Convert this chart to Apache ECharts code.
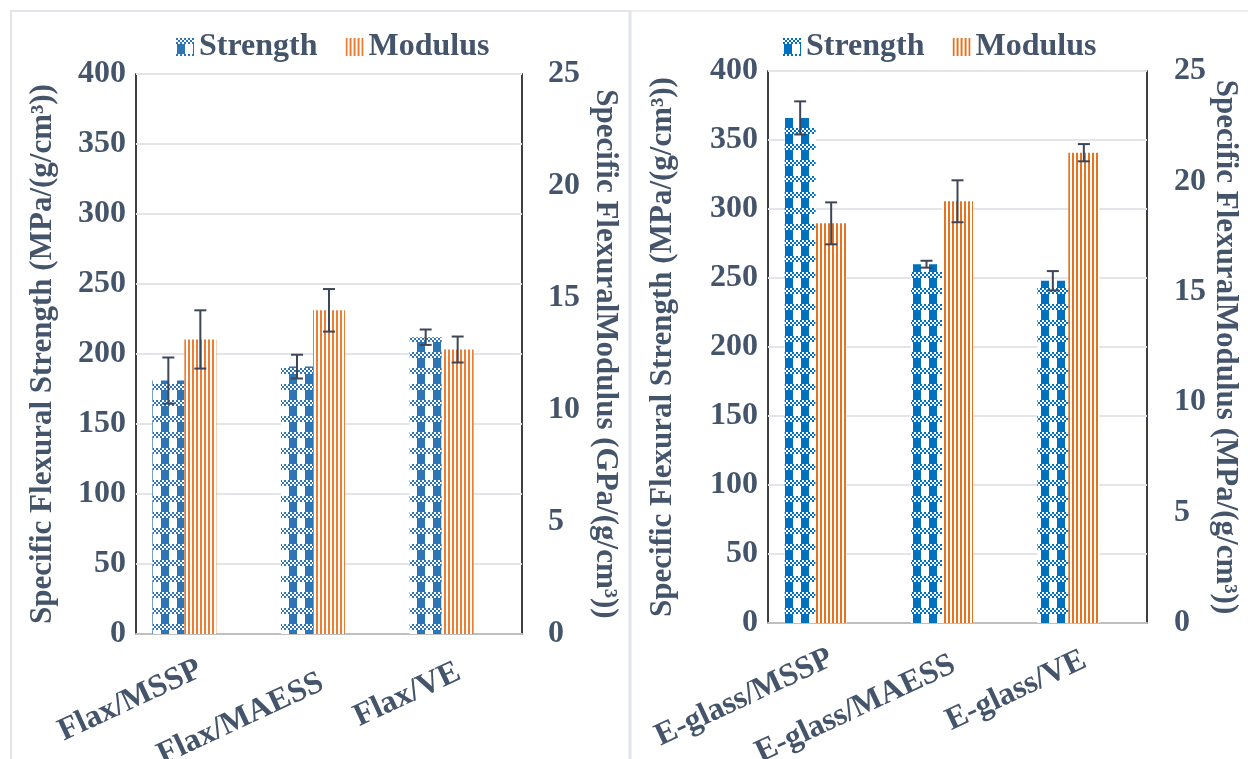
<!DOCTYPE html>
<html><head><meta charset="utf-8">
<script src="https://cdn.jsdelivr.net/npm/echarts@6/dist/echarts.min.js"></script>
<style>html,body{margin:0;padding:0;background:#fff}#c{width:1248px;height:759px}</style>
</head><body><div id="c"></div>
<script>
// ---- data ----
const flaxCategories = ['Flax/MSSP', 'Flax/MAESS', 'Flax/VE'];
const flaxStrength = [181, 191, 212];
const flaxStrengthErr = [16.5, 8.5, 5.5];
const flaxModulus = [13.15, 14.45, 12.7];
const flaxModulusErr = [1.3, 0.95, 0.58];

const glassCategories = ['E-glass/MSSP', 'E-glass/MAESS', 'E-glass/VE'];
const glassStrength = [366, 260, 248];
const glassStrengthErr = [12, 2.5, 7];
const glassModulus = [18.1, 19.1, 21.3];
const glassModulusErr = [0.95, 0.95, 0.39];

const strengthTicks = [0, 400, 50];   // min, max, interval
const modulusTicks = [0, 25, 5];
const legendNames = ['Strength', 'Modulus'];

// ---- patterns ----
function checkerPattern(color) {
  const c = document.createElement('canvas');
  c.width = 16; c.height = 16;
  const g = c.getContext('2d');
  g.fillStyle = '#fff'; g.fillRect(0, 0, 16, 16);
  g.fillStyle = color;
  for (let y = 0; y < 6; y += 2) for (let x = 0; x < 16; x += 2) {
    if (((x + y) / 2) % 2 === 0) g.fillRect(x, y, 2, 2);
  }
  g.fillRect(1, 6, 8, 10);
  return { image: c, repeat: 'repeat' };
}
function stripePattern(color) {
  const c = document.createElement('canvas');
  c.width = 4; c.height = 4;
  const g = c.getContext('2d');
  g.fillStyle = '#fff'; g.fillRect(0, 0, 4, 4);
  g.fillStyle = color; g.fillRect(0, 0, 2, 4);
  return { image: c, repeat: 'repeat' };
}

const TXT = '#44546a';
const FONT = "'Liberation Serif', 'Times New Roman', serif";
const BW = 32;

function errData(vals, errs) { return vals.map((v, i) => [i, v - errs[i], v + errs[i]]); }
function errSeries(data, xi, yi, off) {
  return {
    type: 'custom', xAxisIndex: xi, yAxisIndex: yi, z: 10, silent: true,
    encode: { x: 0, y: [1, 2] }, data: data,
    renderItem: function (params, api) {
      const lo = api.coord([api.value(0), api.value(1)]);
      const hi = api.coord([api.value(0), api.value(2)]);
      const x = lo[0] + off, h = 6;
      const st = { stroke: '#3d4657', lineWidth: 2 };
      return { type: 'group', children: [
        { type: 'line', shape: { x1: x, y1: lo[1], x2: x, y2: hi[1] }, style: st },
        { type: 'line', shape: { x1: x - h, y1: lo[1], x2: x + h, y2: lo[1] }, style: st },
        { type: 'line', shape: { x1: x - h, y1: hi[1], x2: x + h, y2: hi[1] }, style: st }
      ] };
    }
  };
}

const baseFont = { color: TXT, fontFamily: FONT, fontWeight: 'bold' };
const lblStyle = Object.assign({ fontSize: 32 }, baseFont);
const nameStyle = Object.assign({ fontSize: 31 }, baseFont);
const legendText = Object.assign({ fontSize: 32 }, baseFont);

function yAxis(gi, pos, ticks, name, gap, margin, split) {
  return {
    type: 'value', gridIndex: gi, position: pos, min: ticks[0], max: ticks[1], interval: ticks[2],
    name: name, nameLocation: 'middle', nameGap: gap, nameRotate: pos === 'left' ? 90 : -90,
    nameTextStyle: nameStyle,
    axisLine: { show: false }, axisTick: { show: false },
    axisLabel: Object.assign({ margin: margin }, lblStyle),
    splitLine: { show: split, lineStyle: { color: '#e3e5ea', width: 2 } }
  };
}
function xAxis(gi, cats, margin, pads) {
  const rich = {};
  pads.forEach((p, i) => { rich['c' + i] = Object.assign({ fontSize: 32, padding: p }, baseFont); });
  return {
    type: 'category', gridIndex: gi, data: cats,
    axisLine: { show: true, lineStyle: { color: '#bfbfbf', width: 2 } },
    axisTick: { show: false },
    axisLabel: Object.assign({ rotate: 25, margin: margin, interval: 0,
      formatter: (v, i) => '{c' + i + '|' + v + '}', rich: rich }, lblStyle)
  };
}

const blueL = checkerPattern('#2e75b6'), orangeL = stripePattern('#ed7d31');
const blueR = checkerPattern('#0070c0'), orangeR = stripePattern('#e8731f');

const option = {
  backgroundColor: '#fff',
  animation: false,
  graphic: [
    { type: 'rect', shape: { x: 11, y: 11, width: 619, height: 760 }, style: { fill: 'none', stroke: '#e1e4ea', lineWidth: 2 } },
    { type: 'line', shape: { x1: 630, y1: 11, x2: 1248, y2: 11 }, style: { stroke: '#e6e6e6', lineWidth: 1.5 } },
    { type: 'line', shape: { x1: 630, y1: 11, x2: 630, y2: 759 }, style: { stroke: '#e1e4ea', lineWidth: 3 } }
  ],
  legend: [
    { data: legendNames, left: 171, top: 26, icon: 'rect', itemWidth: 18, itemHeight: 18, itemGap: 28,
      textStyle: legendText, selectedMode: false },
    { data: legendNames.map(n => n + ' '), left: 778, top: 26, icon: 'rect', itemWidth: 18, itemHeight: 18, itemGap: 28,
      textStyle: legendText, formatter: n => n.trim(), selectedMode: false }
  ],
  grid: [
    { left: 136, right: 726, top: 74, bottom: 125, show: true, borderColor: '#000', borderWidth: 1.5,
      backgroundColor: 'transparent', containLabel: false, outerBoundsMode: 'none' },
    { left: 768, right: 101, top: 71, bottom: 136, show: true, borderColor: '#000', borderWidth: 1.5,
      backgroundColor: 'transparent', containLabel: false, outerBoundsMode: 'none' }
  ],
  xAxis: [
    xAxis(0, flaxCategories, 34, [[0, 0, 0, 0], [18, 12, 0, 0], [6, 0, 0, 0]]),
    xAxis(1, glassCategories, 34, [[0, 0, 0, 0], [8, 6, 0, 0], [4, 0, 0, 0]])
  ],
  yAxis: [
    yAxis(0, 'left', strengthTicks, 'Specific Flexural Strength (MPa/(g/cm³))', 78, 10, true),
    yAxis(0, 'right', modulusTicks, 'Specific FlexuralModulus (GPa/(g/cm³))', 68, 26, false),
    yAxis(1, 'left', strengthTicks, 'Specific Flexural Strength (MPa/(g/cm³))', 90, 10, true),
    yAxis(1, 'right', modulusTicks, 'Specific FlexuralModulus (MPa/(g/cm³))', 63, 27, false)
  ],
  series: [
    { name: 'Strength', type: 'bar', xAxisIndex: 0, yAxisIndex: 0, data: flaxStrength, barWidth: BW, barGap: '0%', itemStyle: { color: blueL } },
    { name: 'Modulus', type: 'bar', xAxisIndex: 0, yAxisIndex: 1, data: flaxModulus, barWidth: BW, barGap: '0%', itemStyle: { color: orangeL } },
    { name: '_pad1', type: 'bar', xAxisIndex: 0, yAxisIndex: 1, data: flaxModulus.map(() => null), barWidth: BW, barGap: '0%' },
    errSeries(errData(flaxStrength, flaxStrengthErr), 0, 0, -BW),
    errSeries(errData(flaxModulus, flaxModulusErr), 0, 1, 0),

    { name: 'Strength ', type: 'bar', xAxisIndex: 1, yAxisIndex: 2, data: glassStrength, barWidth: 31, barGap: '0%', itemStyle: { color: blueR } },
    { name: 'Modulus ', type: 'bar', xAxisIndex: 1, yAxisIndex: 3, data: glassModulus, barWidth: 31, barGap: '0%', itemStyle: { color: orangeR } },
    { name: '_pad2', type: 'bar', xAxisIndex: 1, yAxisIndex: 3, data: glassModulus.map(() => null), barWidth: 31, barGap: '0%' },
    errSeries(errData(glassStrength, glassStrengthErr), 1, 2, -31),
    errSeries(errData(glassModulus, glassModulusErr), 1, 3, 0)
  ]
};
const chart = echarts.init(document.getElementById('c'), null, { renderer: 'canvas' });
chart.setOption(option);
</script></body></html>
